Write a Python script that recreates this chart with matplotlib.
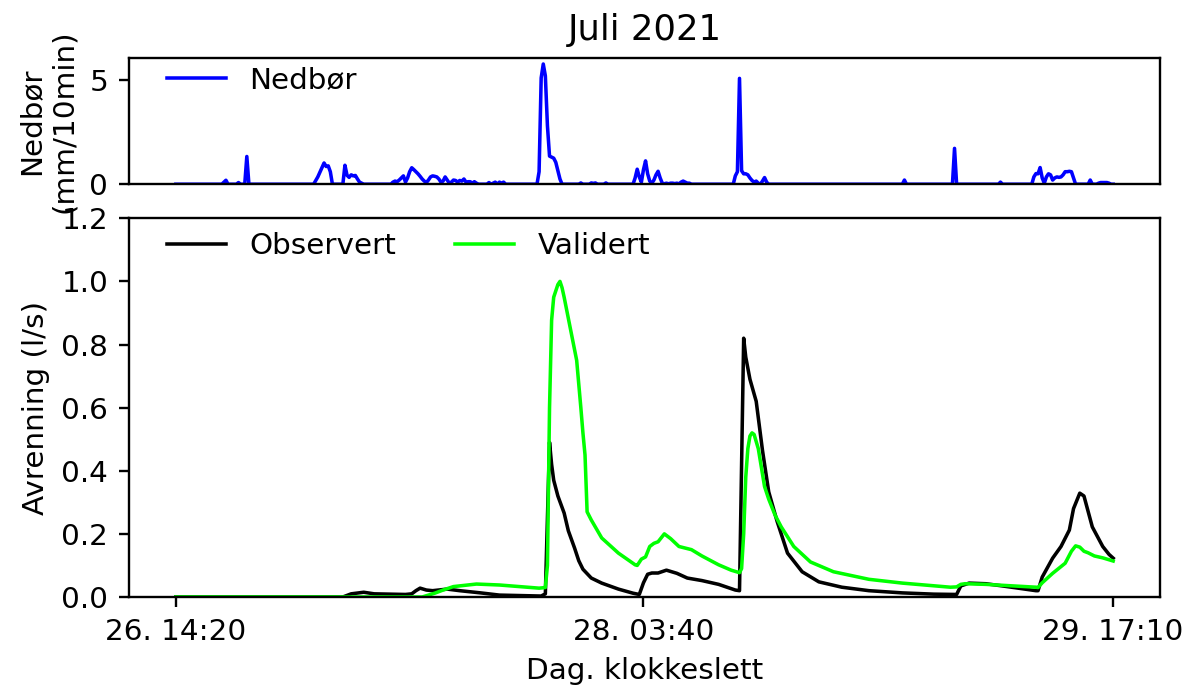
import numpy as np
import pandas as pd
import matplotlib
matplotlib.use('Agg')
from matplotlib import pyplot as plt
import matplotlib.dates as mdates

# 10-minute steps counted from 26 July 2021 14:20
start = pd.Timestamp('2021-07-26 14:20')

# Nedbør (mm/10min)
precip_step = [0, 22, 24, 25, 29, 30, 31, 33, 34, 35,
               66, 68, 70, 71, 72, 73, 74, 75,
               80, 81, 82, 83, 84, 85, 86, 87, 88, 89, 90,
               103, 104, 105, 106, 107, 108, 109, 110, 111, 112, 113, 114, 115, 116,
               117, 118, 119, 120, 121, 122, 123, 124, 125, 126, 127, 128, 129, 130,
               131, 132, 133, 134, 135, 136, 137, 138, 139, 140, 141, 142, 143, 144, 145,
               149, 150, 151, 152, 153, 154, 155, 156, 157, 158,
               173, 174, 175, 176, 177, 178, 179, 180, 181, 182, 183, 184, 185,
               193, 194, 195, 198, 199, 200, 201, 202, 205, 206, 207,
               219, 220, 221, 222, 223, 224, 225, 226, 227, 228, 229, 230, 231, 232,
               233, 234, 235, 236, 237, 238, 239, 240, 241, 242, 243, 244, 245, 246, 247,
               267, 268, 269, 270, 271, 272, 273, 274, 275, 276, 277, 278, 279, 280,
               281, 282, 283, 284,
               348, 349, 350, 372, 373, 374, 394, 395, 396,
               410, 411, 412, 413, 414, 415, 416, 417, 418, 419, 420, 421, 422, 423,
               424, 425, 426, 427, 428, 429, 430, 431,
               437, 438, 439, 441, 442, 443, 444, 445, 446, 447, 448, 449]
precip = [0, 0, 0.19, 0, 0, 0.08, 0, 0, 1.33, 0,
          0, 0.35, 0.8, 1.02, 0.85, 0.88, 0.6, 0,
          0, 0.91, 0.43, 0.33, 0.45, 0.4, 0.42, 0.25, 0.1, 0.05, 0,
          0, 0.1, 0.15, 0.12, 0.2, 0.3, 0.4, 0.1, 0.3, 0.6, 0.79, 0.7, 0.6, 0.5,
          0.38, 0.25, 0.15, 0.08, 0.2, 0.35, 0.4, 0.38, 0.35, 0.25, 0.1, 0.15, 0.35, 0.2,
          0.05, 0.1, 0.2, 0.18, 0.1, 0.18, 0.15, 0.25, 0.1, 0.12, 0.12, 0.05, 0.12, 0.05, 0,
          0, 0.08, 0, 0.05, 0.1, 0, 0.1, 0.05, 0.1, 0,
          0, 0.6, 5.1, 5.77, 5.2, 2.8, 1.35, 1.3, 1.25, 1.05, 0.65, 0.25, 0,
          0, 0.06, 0, 0, 0.06, 0.04, 0.06, 0, 0, 0.06, 0,
          0, 0.3, 0.72, 0.35, 0.1, 0.7, 1.12, 0.5, 0.15, 0.05, 0.2, 0.45, 0.62, 0.3,
          0.05, 0.02, 0.05, 0.02, 0.05, 0.05, 0.03, 0.05, 0.02, 0.1, 0.15, 0.1, 0.05, 0.05, 0,
          0, 0.4, 0.6, 5.08, 0.65, 0.5, 0.5, 0.45, 0.3, 0.18, 0.1, 0.15, 0.05, 0,
          0.15, 0.32, 0.1, 0,
          0, 0.2, 0, 0, 1.72, 0, 0, 0.1, 0,
          0, 0.35, 0.51, 0.5, 0.8, 0.3, 0.05, 0.35, 0.5, 0.45, 0.2, 0.3, 0.35, 0.33,
          0.35, 0.45, 0.6, 0.6, 0.62, 0.6, 0.3, 0,
          0, 0.2, 0, 0, 0.05, 0.08, 0.08, 0.08, 0.08, 0.05, 0, 0]

# Avrenning (l/s), observert
obs_step = [0, 80, 84, 90, 95, 110, 113, 115, 117, 120, 123, 130, 136, 146, 155,
            175, 177, 179, 180, 181, 183, 186, 188, 191, 193, 195, 199, 204, 212,
            219, 222, 224, 226, 228, 231, 235, 240, 245, 252, 260, 268, 270,
            272, 273, 275, 278, 281, 284, 288, 293, 300, 308, 319, 332, 348, 363,
            374, 376, 380, 388, 396, 412, 413, 415, 420, 424, 428, 430, 433, 435,
            439, 444, 447, 449]
obs = [0, 0, 0.01, 0.015, 0.01, 0.008, 0.01, 0.02, 0.028, 0.022, 0.02, 0.025, 0.02, 0.013, 0.006,
       0.003, 0.01, 0.49, 0.42, 0.37, 0.32, 0.266, 0.21, 0.155, 0.115, 0.088, 0.06, 0.044, 0.025,
       0.012, 0.008, 0.045, 0.072, 0.076, 0.076, 0.085, 0.075, 0.06, 0.052, 0.04, 0.022, 0.02,
       0.82, 0.76, 0.69, 0.62, 0.465, 0.333, 0.24, 0.139, 0.08, 0.048, 0.031, 0.02, 0.013, 0.009,
       0.008, 0.035, 0.044, 0.042, 0.035, 0.02, 0.02, 0.063, 0.123, 0.16, 0.212, 0.28, 0.329, 0.32,
       0.222, 0.16, 0.135, 0.123]

# Avrenning (l/s), validert
val_step = [0, 118, 124, 128, 133, 144, 155, 174, 177, 178, 179, 180, 181, 183, 184,
            185, 186, 189, 192, 194, 195, 196, 197, 199, 204, 212, 220, 221, 223, 225,
            227, 229, 231, 234, 237, 241, 244, 247, 252, 260, 266, 270, 271, 272, 273,
            274, 275, 276, 277, 279, 282, 284, 287, 290, 296, 304, 315, 332, 348, 371,
            374, 376, 378, 388, 412, 413, 415, 420, 426, 429, 431, 433, 435, 437, 440,
            444, 449]
val = [0, 0, 0.012, 0.022, 0.033, 0.041, 0.038, 0.028, 0.03, 0.1, 0.6, 0.877, 0.95, 0.99, 1.0,
       0.98, 0.95, 0.85, 0.75, 0.6, 0.52, 0.45, 0.27, 0.244, 0.187, 0.139, 0.102, 0.1, 0.12, 0.127,
       0.16, 0.17, 0.175, 0.2, 0.185, 0.16, 0.155, 0.15, 0.13, 0.102, 0.085, 0.077, 0.09, 0.2, 0.38,
       0.47, 0.51, 0.52, 0.515, 0.47, 0.35, 0.31, 0.26, 0.222, 0.16, 0.111, 0.08, 0.056, 0.044, 0.031,
       0.032, 0.04, 0.042, 0.04, 0.031, 0.03, 0.045, 0.075, 0.107, 0.145, 0.162, 0.158, 0.145, 0.14, 0.13,
       0.124, 0.114]

tick_times = ['2021-07-26 14:20', '2021-07-28 03:40', '2021-07-29 17:10']


def to_time(steps):
    return start + pd.to_timedelta(np.array(steps) * 10, unit='min')


dpi = 212
fig, (ax1, ax2) = plt.subplots(2, 1, sharex=True, figsize=(1192 / dpi, 692 / dpi), dpi=dpi,
                               gridspec_kw={'height_ratios': [1, 3]})
fig.subplots_adjust(left=0.1082, right=0.9732, top=0.9162, bottom=0.1373, hspace=0.135)

ax1.plot(to_time(precip_step), precip, c='b', lw=1.2, label='Nedbør')
ax1.set_ylim(bottom=0)
ax1.set_yticks([0, 5])
ax1.set_ylabel('Nedbør\n(mm/10min)')
ax1.set_title('Juli 2021')
ax1.tick_params(axis='x', bottom=False, labelbottom=False)
ax1.legend(loc='center left', bbox_to_anchor=(0.037, 0.825), frameon=False,
           borderpad=0, borderaxespad=0)

ax2.plot(to_time(obs_step), obs, c='k', lw=1.2, label='Observert')
ax2.plot(to_time(val_step), val, c='lime', lw=1.2, label='Validert')
ax2.set_ylim(0, 1.2)
ax2.set_ylabel('Avrenning (l/s)')
ax2.set_xlabel('Dag. klokkeslett')
ax2.set_xticks(pd.to_datetime(tick_times))
ax2.xaxis.set_major_formatter(mdates.DateFormatter('%d. %H:%M'))
ax2.legend(loc='center left', bbox_to_anchor=(0.037, 0.926), ncol=2, frameon=False,
           borderpad=0, borderaxespad=0)

fig.savefig('out.png', dpi=dpi)
